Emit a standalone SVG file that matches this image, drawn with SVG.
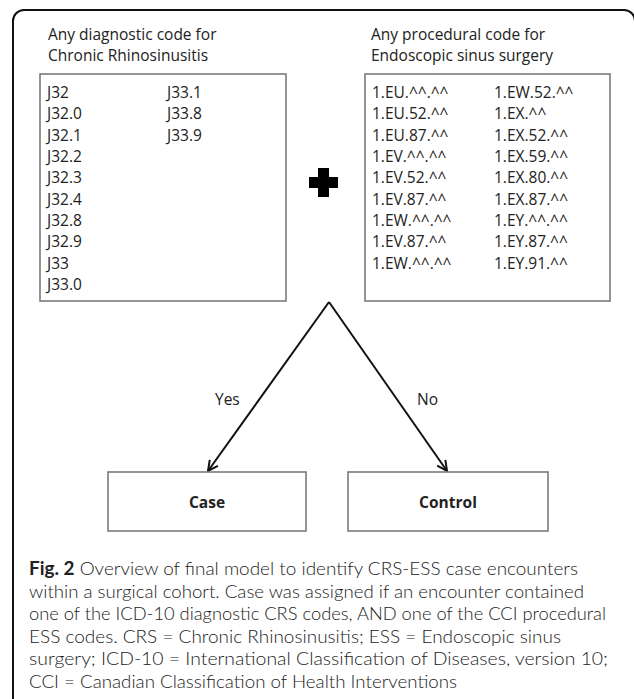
<svg xmlns="http://www.w3.org/2000/svg" width="634" height="699" viewBox="0 0 634 699">
<defs>
<style>
.t{font-family:"Open Sans","Liberation Sans",sans-serif;font-size:15.5px;fill:#222}
.b{font-weight:bold}
.cap{font-family:Lato,"Open Sans","Liberation Sans",sans-serif;font-weight:300;font-size:18px;fill:#222}
.box{fill:#fff;stroke:#7a7a7a;stroke-width:1.6}
.edge{fill:none;stroke:#111;stroke-width:2}
</style>
<marker id="arr" viewBox="0 0 12 12" refX="11" refY="6" markerWidth="12" markerHeight="12" markerUnits="userSpaceOnUse" orient="auto">
<path d="M1,1 L11,6 L1,11" fill="none" stroke="#111" stroke-width="2"/>
</marker>
</defs>
<rect width="634" height="699" fill="#fff"/>
<rect x="13" y="10" width="622" height="720" rx="11" fill="none" stroke="#111" stroke-width="2"/>

<g id="diagnostic">
<text class="t" x="48" y="40">Any diagnostic code for</text>
<text class="t" x="48" y="61">Chronic Rhinosinusitis</text>
<rect class="box" x="40" y="74" width="246" height="227"/>
<text class="t" x="47" y="98">J32</text>
<text class="t" x="47" y="119.3">J32.0</text>
<text class="t" x="47" y="140.6">J32.1</text>
<text class="t" x="47" y="162">J32.2</text>
<text class="t" x="47" y="183.3">J32.3</text>
<text class="t" x="47" y="204.6">J32.4</text>
<text class="t" x="47" y="226">J32.8</text>
<text class="t" x="47" y="247.3">J32.9</text>
<text class="t" x="47" y="268.6">J33</text>
<text class="t" x="47" y="290">J33.0</text>
<text class="t" x="167" y="98">J33.1</text>
<text class="t" x="167" y="119.3">J33.8</text>
<text class="t" x="167" y="140.6">J33.9</text>
</g>

<g id="plus">
<path d="M318,168 H329 V177 H338 V188 H329 V197 H318 V188 H309 V177 H318 Z" fill="#000"/>
</g>

<g id="procedural">
<text class="t" x="371" y="40">Any procedural code for</text>
<text class="t" x="371" y="61">Endoscopic sinus surgery</text>
<rect class="box" x="365" y="74" width="245" height="227"/>
<text class="t" x="372" y="98">1.EU.^^.^^</text>
<text class="t" x="372" y="119.3">1.EU.52.^^</text>
<text class="t" x="372" y="140.6">1.EU.87.^^</text>
<text class="t" x="372" y="162">1.EV.^^.^^</text>
<text class="t" x="372" y="183.3">1.EV.52.^^</text>
<text class="t" x="372" y="204.6">1.EV.87.^^</text>
<text class="t" x="372" y="226">1.EW.^^.^^</text>
<text class="t" x="372" y="247.3">1.EV.87.^^</text>
<text class="t" x="372" y="268.6">1.EW.^^.^^</text>
<text class="t" x="494" y="98">1.EW.52.^^</text>
<text class="t" x="494" y="119.3">1.EX.^^</text>
<text class="t" x="494" y="140.6">1.EX.52.^^</text>
<text class="t" x="494" y="162">1.EX.59.^^</text>
<text class="t" x="494" y="183.3">1.EX.80.^^</text>
<text class="t" x="494" y="204.6">1.EX.87.^^</text>
<text class="t" x="494" y="226">1.EY.^^.^^</text>
<text class="t" x="494" y="247.3">1.EY.87.^^</text>
<text class="t" x="494" y="268.6">1.EY.91.^^</text>
</g>

<g id="connectors">
<line class="edge" x1="329" y1="302" x2="208" y2="471" marker-end="url(#arr)"/>
<line class="edge" x1="329" y1="302" x2="447" y2="471" marker-end="url(#arr)"/>
<text class="t" x="215" y="405">Yes</text>
<text class="t" x="417" y="405">No</text>
</g>

<g id="case">
<rect class="box" x="108" y="472" width="198" height="59"/>
<text class="t b" x="207" y="508" text-anchor="middle">Case</text>
</g>

<g id="control">
<rect class="box" x="348" y="472" width="200" height="59"/>
<text class="t b" x="448" y="508" text-anchor="middle">Control</text>
</g>

<g id="caption">
<text class="cap" x="29" y="575" textLength="549" lengthAdjust="spacingAndGlyphs"><tspan font-weight="bold">Fig. 2</tspan> Overview of final model to identify CRS-ESS case encounters</text>
<text class="cap" x="29" y="597.6" textLength="555" lengthAdjust="spacingAndGlyphs">within a surgical cohort. Case was assigned if an encounter contained</text>
<text class="cap" x="29" y="620.2" textLength="577" lengthAdjust="spacingAndGlyphs">one of the ICD-10 diagnostic CRS codes, AND one of the CCI procedural</text>
<text class="cap" x="29" y="642.8" textLength="532" lengthAdjust="spacingAndGlyphs">ESS codes. CRS = Chronic Rhinosinusitis; ESS = Endoscopic sinus</text>
<text class="cap" x="29" y="665.4" textLength="579" lengthAdjust="spacingAndGlyphs">surgery; ICD-10 = International Classification of Diseases, version 10;</text>
<text class="cap" x="29" y="688" textLength="428" lengthAdjust="spacingAndGlyphs">CCI = Canadian Classification of Health Interventions</text>
</g>
</svg>
